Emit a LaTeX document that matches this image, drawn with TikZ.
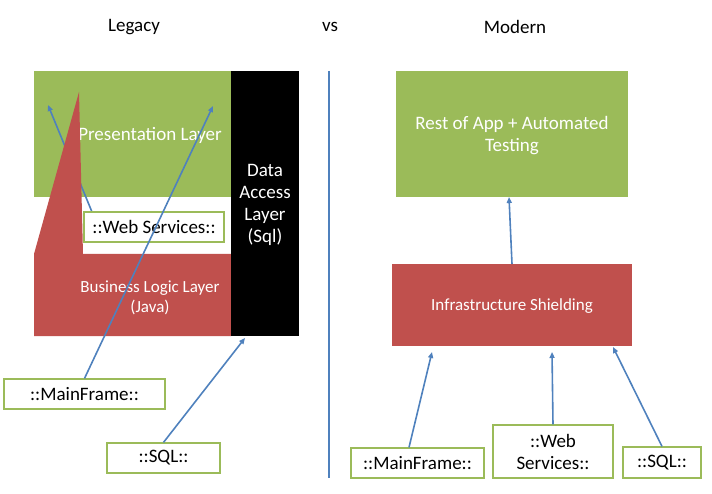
\documentclass[tikz,border=0pt]{standalone}
\usepackage{fontspec}
\setmainfont{Carlito}
\usetikzlibrary{arrows.meta}
\definecolor{lgreen}{HTML}{9BBB59}
\definecolor{lred}{HTML}{C0504D}
\definecolor{lblue}{HTML}{4F81BD}
\tikzset{
  big/.style={font=\fontsize{19}{22}\selectfont},
  small/.style={font=\fontsize{17}{20}\selectfont},
  block/.style={inner sep=0pt, outer sep=0pt, draw=none},
  outbox/.style={draw=lgreen, line width=1.2pt, fill=white, inner sep=0pt, align=center, big},
  conn/.style={draw=lblue, line width=1.6pt, -{Triangle[length=6pt,width=5pt]}},
  wtext/.style={text=white, align=center, inner sep=0pt},
}
\begin{document}
\begin{tikzpicture}[x=1pt,y=-1pt]
\useasboundingbox (0,0) rectangle (712,494);
% titles
\node[big] (legacy) at (134,27) {Legacy};
\node[big] (vs) at (330,27) {vs};
\node[big] (modern) at (515,27) {Modern};
% divider
\coordinate (vtop) at (329,71);
\coordinate (vbot) at (329,478);
\draw[lblue, line width=2pt] (vtop) -- (vbot);
% legacy side
\node[block, fill=lgreen, minimum width=197pt, minimum height=126pt] (pres) at (132.5,134) {};
\node[wtext, big] (prestext) at (150,135) {Presentation Layer};
\coordinate (a1end) at (48,105);
\coordinate (a1start) at (92,212);
\draw[conn] (a1start) -- (a1end);
\path[fill=lred] (34,254) -- (79,92) -- (83,254) -- (231,254) -- (231,336) -- (34,336) -- cycle;
\node[wtext, small] (bll) at (150,298) {Business Logic Layer\\(Java)};
\node[block, fill=black, minimum width=68pt, minimum height=265pt] (dal) at (265,203.5) {};
\node[wtext, big] (daltext) at (265,205) {Data\\Access\\Layer\\(Sql)};
\node[outbox, minimum width=140pt, minimum height=30pt] (wsL) at (154,227) {::Web Services::};
\node[outbox, minimum width=161pt, minimum height=30pt] (mfL) at (84.5,394) {::MainFrame::};
\node[outbox, minimum width=113pt, minimum height=30pt] (sqlL) at (163.5,458) {::SQL::};
\coordinate (a2end) at (213,106);
\coordinate (a3end) at (245,338);
\draw[conn] (mfL.north) -- (a2end);
\draw[conn] (sqlL.north) -- (a3end);
% modern side
\node[block, fill=lgreen, minimum width=232pt, minimum height=126pt] (rest) at (512,134) {};
\node[wtext, big] (resttext) at (512,136) {Rest of App + Automated\\Testing};
\node[block, fill=lred, minimum width=240pt, minimum height=82pt] (shield) at (512,305) {};
\node[wtext, small] (shieldtext) at (512,306) {Infrastructure Shielding};
\node[outbox, minimum width=133pt, minimum height=30pt] (mfR) at (417.5,463) {::MainFrame::};
\node[outbox, minimum width=120pt, minimum height=53pt] (wsR) at (553,451.5) {::Web\\Services::};
\node[outbox, minimum width=78pt, minimum height=31pt] (sqlR) at (662,462.5) {::SQL::};
\coordinate (a5end) at (432,352);
\coordinate (a6end) at (552,352);
\coordinate (a7end) at (613,347);
\draw[conn] (shield.north) -- ([xshift=-3pt]rest.south);
\draw[conn] ([xshift=-8.5pt]mfR.north) -- (a5end);
\draw[conn] (wsR.north) -- (a6end);
\draw[conn] (sqlR.north) -- (a7end);
\end{tikzpicture}
\end{document}
